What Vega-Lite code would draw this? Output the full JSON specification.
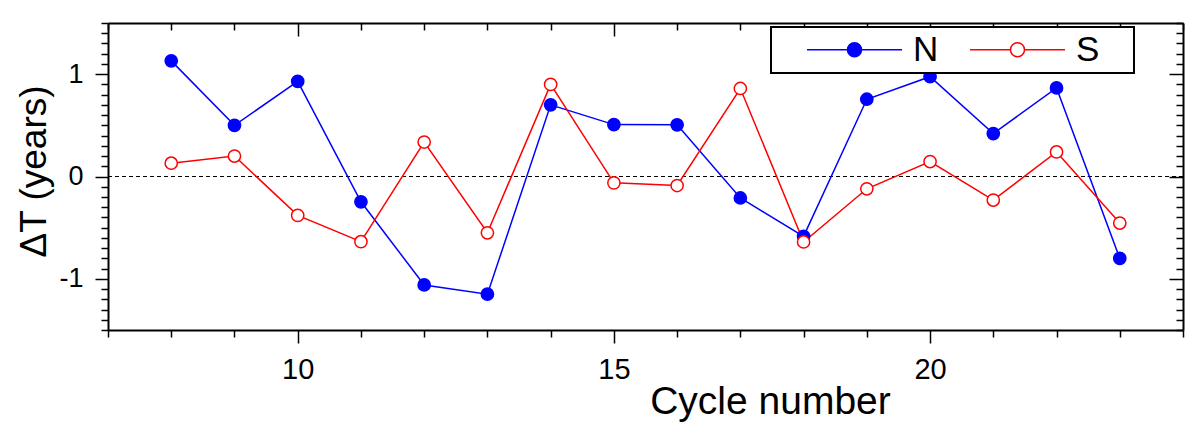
{
  "$schema": "https://vega.github.io/schema/vega-lite/v6.json",
  "width": 1075,
  "height": 307,
  "autosize": {"type": "none"},
  "padding": {"left": 108, "top": 23, "right": 17, "bottom": 103},
  "background": "white",
  "data": {
    "values": [
      {"cycle": 8, "series": "N", "dt": 1.13},
      {"cycle": 9, "series": "N", "dt": 0.50},
      {"cycle": 10, "series": "N", "dt": 0.93},
      {"cycle": 11, "series": "N", "dt": -0.247},
      {"cycle": 12, "series": "N", "dt": -1.06},
      {"cycle": 13, "series": "N", "dt": -1.15},
      {"cycle": 14, "series": "N", "dt": 0.70},
      {"cycle": 15, "series": "N", "dt": 0.507},
      {"cycle": 16, "series": "N", "dt": 0.505},
      {"cycle": 17, "series": "N", "dt": -0.21},
      {"cycle": 18, "series": "N", "dt": -0.585},
      {"cycle": 19, "series": "N", "dt": 0.755},
      {"cycle": 20, "series": "N", "dt": 0.975},
      {"cycle": 21, "series": "N", "dt": 0.42},
      {"cycle": 22, "series": "N", "dt": 0.865},
      {"cycle": 23, "series": "N", "dt": -0.80},
      {"cycle": 8, "series": "S", "dt": 0.13},
      {"cycle": 9, "series": "S", "dt": 0.20},
      {"cycle": 10, "series": "S", "dt": -0.38},
      {"cycle": 11, "series": "S", "dt": -0.637},
      {"cycle": 12, "series": "S", "dt": 0.337},
      {"cycle": 13, "series": "S", "dt": -0.55},
      {"cycle": 14, "series": "S", "dt": 0.90},
      {"cycle": 15, "series": "S", "dt": -0.062},
      {"cycle": 16, "series": "S", "dt": -0.088},
      {"cycle": 17, "series": "S", "dt": 0.86},
      {"cycle": 18, "series": "S", "dt": -0.64},
      {"cycle": 19, "series": "S", "dt": -0.12},
      {"cycle": 20, "series": "S", "dt": 0.146},
      {"cycle": 21, "series": "S", "dt": -0.23},
      {"cycle": 22, "series": "S", "dt": 0.24},
      {"cycle": 23, "series": "S", "dt": -0.455}
    ]
  },
  "layer": [
    {
      "mark": {"type": "rule", "color": "black", "strokeWidth": 1, "strokeDash": [4, 3]},
      "encoding": {
        "y": {"datum": 0, "type": "quantitative", "axis": null}
      }
    },
    {
      "transform": [{"filter": "datum.series === 'N'"}],
      "mark": {"type": "line", "color": "#0000ff", "strokeWidth": 1.5},
      "encoding": {
        "x": {
          "field": "cycle", "type": "quantitative",
          "scale": {"domain": [7, 24], "nice": false, "zero": false},
          "axis": {
            "orient": "bottom",
            "values": [7, 8, 9, 10, 11, 12, 13, 14, 15, 16, 17, 18, 19, 20, 21, 22, 23, 24],
            "labelExpr": "datum.value % 5 === 0 ? toString(datum.value) : ''",
            "tickSize": {"condition": {"test": "datum.value % 5 === 0", "value": 13}, "value": 7},
            "labelFontSize": 29,
            "labelBaseline": "alphabetic",
            "labelPadding": 35,
            "title": "Cycle number",
            "titleFontSize": 39,
            "titleX": 662,
            "titleY": 83,
            "titleAlign": "center",
            "titleBaseline": "alphabetic"
          }
        },
        "y": {
          "field": "dt", "type": "quantitative",
          "scale": {"domain": [-1.5, 1.5], "nice": false, "zero": false},
          "axis": {
            "orient": "left",
            "values": [-1.5, -1.4, -1.3, -1.2, -1.1, -1, -0.9, -0.8, -0.7, -0.6, -0.5, -0.4, -0.3, -0.2, -0.1, 0, 0.1, 0.2, 0.3, 0.4, 0.5, 0.6, 0.7, 0.8, 0.9, 1, 1.1, 1.2, 1.3, 1.4, 1.5],
            "labelExpr": "abs(datum.value - round(datum.value)) < 0.001 && abs(datum.value) < 1.2 ? toString(round(datum.value)) : ''",
            "tickSize": {"condition": {"test": "abs(datum.value - round(datum.value)) < 0.001", "value": 13}, "value": 7},
            "labelFontSize": 27,
            "labelPadding": 12,
            "title": "ΔT (years)",
            "titleFontSize": 37,
            "titleAngle": -90,
            "titleX": -63,
            "titleY": 148,
            "titleAlign": "center",
            "titleBaseline": "alphabetic"
          }
        }
      }
    },
    {
      "transform": [{"filter": "datum.series === 'S'"}],
      "mark": {"type": "line", "color": "#ff0000", "strokeWidth": 1.5},
      "encoding": {
        "x": {
          "field": "cycle", "type": "quantitative",
          "axis": {
            "orient": "top",
            "values": [7, 8, 9, 10, 11, 12, 13, 14, 15, 16, 17, 18, 19, 20, 21, 22, 23, 24],
            "labels": false,
            "title": null,
            "tickSize": {"condition": {"test": "datum.value % 5 === 0", "value": -13}, "value": -7}
          }
        },
        "y": {
          "field": "dt", "type": "quantitative",
          "axis": {
            "orient": "right",
            "values": [-1.5, -1.4, -1.3, -1.2, -1.1, -1, -0.9, -0.8, -0.7, -0.6, -0.5, -0.4, -0.3, -0.2, -0.1, 0, 0.1, 0.2, 0.3, 0.4, 0.5, 0.6, 0.7, 0.8, 0.9, 1, 1.1, 1.2, 1.3, 1.4, 1.5],
            "labels": false,
            "title": null,
            "tickSize": {"condition": {"test": "abs(datum.value - round(datum.value)) < 0.001", "value": -14}, "value": -7}
          }
        }
      }
    },
    {
      "mark": {"type": "point", "shape": "circle", "size": 150, "strokeWidth": 1.5, "opacity": 1},
      "encoding": {
        "x": {"field": "cycle", "type": "quantitative", "axis": null},
        "y": {"field": "dt", "type": "quantitative", "axis": null},
        "fill": {
          "field": "series", "type": "nominal", "title": ".",
          "scale": {"domain": ["N", "S"], "range": ["#0000ff", "#ffffff"]}
        },
        "stroke": {
          "field": "series", "type": "nominal", "title": ".",
          "scale": {"domain": ["N", "S"], "range": ["#0000ff", "#ff0000"]}
        }
      }
    }
  ],
  "resolve": {"axis": {"x": "independent", "y": "independent"}},
  "config": {
    "view": {"stroke": null},
    "font": "Liberation Sans",
    "axis": {
      "grid": false,
      "domainColor": "black",
      "domainWidth": 2,
      "tickColor": "black",
      "tickWidth": 1.5,
      "labelColor": "black",
      "labelFont": "Liberation Sans",
      "titleFont": "Liberation Sans",
      "titleColor": "black",
      "titleFontWeight": "normal",
      "labelFlush": false,
      "labelOverlap": false
    },
    "legend": {
      "orient": "none",
      "legendX": 663,
      "legendY": 4,
      "direction": "horizontal",
      "columns": 2,
      "strokeColor": "black",
      "strokeWidth": 2,
      "fillColor": "white",
      "padding": 5,
      "symbolType": "M-6.786,0H-1A1,1,0,1,1,1,0A1,1,0,1,1,-1,0M1,0H6.786",
      "symbolSize": 196,
      "symbolStrokeWidth": 1.5,
      "symbolOffset": 61,
      "labelOffset": 41,
      "columnPadding": -6,
      "labelFont": "Liberation Sans",
      "labelFontSize": 35,
      "labelColor": "black",
      "titleOrient": "right",
      "titleColor": "white",
      "titleFontSize": 10,
      "titlePadding": 27
    }
  }
}
